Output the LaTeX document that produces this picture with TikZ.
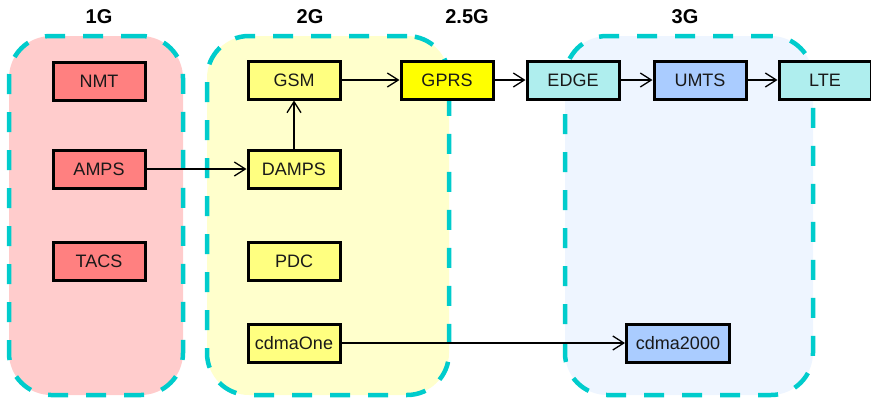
\documentclass[tikz,border=0pt]{standalone}
\usepackage{fontspec}
\setmainfont{Liberation Sans}
\usetikzlibrary{arrows.meta}

\definecolor{genborder}{HTML}{00CCCC}
\definecolor{onegfill}{HTML}{FFCCCC}
\definecolor{twogfill}{HTML}{FFFFCC}
\definecolor{threegfill}{HTML}{EEF5FF}
\definecolor{onegbox}{HTML}{FF8080}
\definecolor{twogbox}{HTML}{FFFF80}
\definecolor{gprsbox}{HTML}{FFFF00}
\definecolor{edgebox}{HTML}{AFEEEE}
\definecolor{umtsbox}{HTML}{AACCFF}

\begin{document}
\begin{tikzpicture}[x=1pt, y=-1pt,
  gen/.style={draw=genborder, line width=4.5pt, dash pattern=on 20pt off 18pt,
              rounded corners=42pt, inner sep=0pt},
  tech/.style={draw=black, line width=3pt, minimum width=92pt, minimum height=38pt,
               inner sep=0pt, text=black!90, font=\fontsize{18}{21}\selectfont},
  era/.style={font=\bfseries\fontsize{20}{24}\selectfont},
  link/.style={line width=1.8pt,
               -{Straight Barb[length=11pt,width=14pt,line width=1.3pt]}}]

  \useasboundingbox (0,0) rectangle (871,397);

  % generation areas
  \node[gen, fill=onegfill, minimum width=174pt, minimum height=359pt] (g1) at (96,215.5) {};
  \node[gen, fill=twogfill, minimum width=242pt, minimum height=359pt] (g2) at (328,215.5) {};
  \node[gen, fill=threegfill, minimum width=248pt, minimum height=359pt] (g3) at (689,215.5) {};

  % generation titles
  \node[era] (t1)  at (99,17)  {1G};
  \node[era] (t2)  at (310,17) {2G};
  \node[era] (t25) at (467,17) {2.5G};
  \node[era] (t3)  at (685,17) {3G};

  % 1G systems
  \node[tech, fill=onegbox] (nmt)  at (99,81)  {NMT};
  \node[tech, fill=onegbox] (amps) at (99,169) {AMPS};
  \node[tech, fill=onegbox] (tacs) at (99,261) {TACS};

  % 2G systems
  \node[tech, fill=twogbox] (gsm)     at (294,80)  {GSM};
  \node[tech, fill=twogbox] (damps)   at (294,169) {DAMPS};
  \node[tech, fill=twogbox] (pdc)     at (294,261) {PDC};
  \node[tech, fill=twogbox] (cdmaone) at (294,343) {cdmaOne};

  % 2.5G and later
  \node[tech, fill=gprsbox] (gprs) at (447,80) {GPRS};
  \node[tech, fill=edgebox] (edge) at (573,80) {EDGE};
  \node[tech, fill=umtsbox] (umts) at (700,80) {UMTS};
  \node[tech, fill=edgebox] (lte)  at (825,80) {LTE};
  \node[tech, fill=umtsbox, minimum width=103pt] (cdma2k) at (678,343) {cdma2000};

  % evolution links
  \draw[link] (amps) -- (damps);
  \draw[link] (damps) -- (gsm);
  \draw[link] (gsm) -- (gprs);
  \draw[link] (gprs) -- (edge);
  \draw[link] (edge) -- (umts);
  \draw[link] (umts) -- (lte);
  \draw[link] (cdmaone) -- (cdma2k);
\end{tikzpicture}
\end{document}
